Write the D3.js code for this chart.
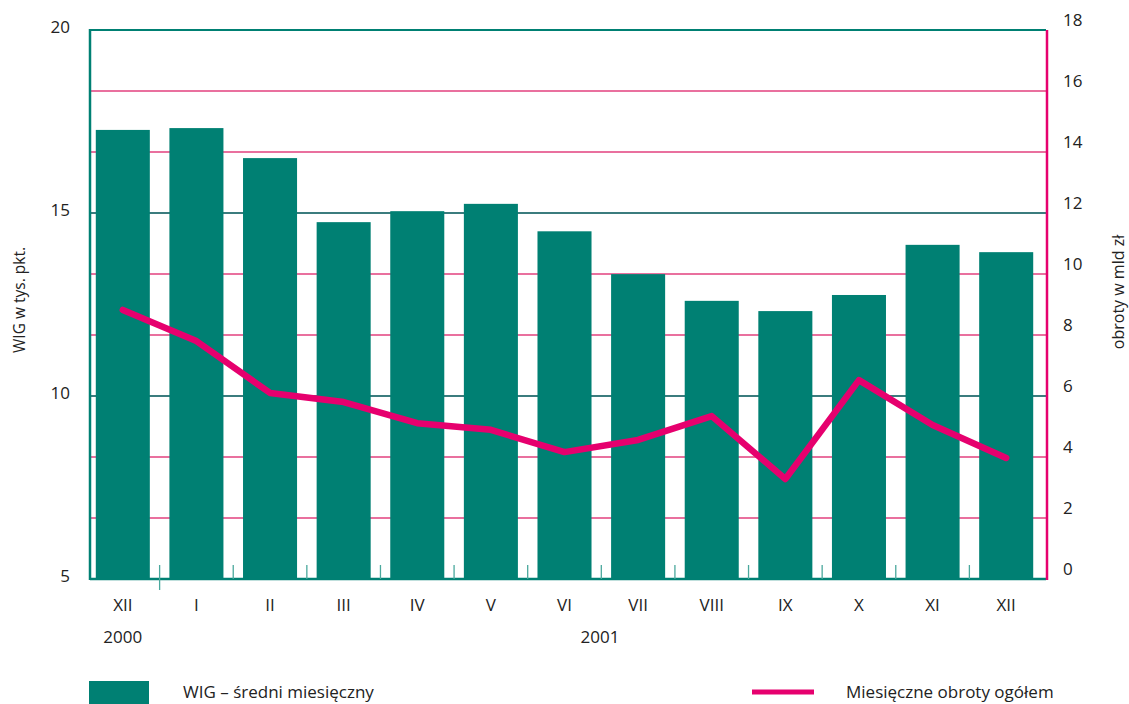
<!DOCTYPE html>
<html>
<head>
<meta charset="utf-8">
<script src="https://cdn.jsdelivr.net/npm/d3@7"></script>
<style>
  body { margin: 0; background: #fff; }
  text { font-family: "Open Sans", "Noto Sans", sans-serif; fill: #222; }
</style>
</head>
<body>
<div id="chart"></div>
<script>
// Months (Dec 2000 - Dec 2001)
const months = ["XII", "I", "II", "III", "IV", "V", "VI", "VII", "VIII", "IX", "X", "XI", "XII"];
// WIG monthly average, thousands of points
const wig = [17.27, 17.32, 16.5, 14.75, 15.05, 15.25, 14.5, 13.33, 12.6, 12.32, 12.76, 14.13, 13.93];
// monthly turnover, bln PLN
const obroty = [8.82, 7.8, 6.1, 5.8, 5.11, 4.89, 4.16, 4.56, 5.34, 3.28, 6.52, 5.05, 3.97];
const leftTicks = [5, 10, 15, 20];
const rightTicks = [0, 2, 4, 6, 8, 10, 12, 14, 16, 18];

const green = "#008073", pink = "#e6006e";
const W = 1129, H = 704;
const plot = { left: 90, right: 1046, top: 30, bottom: 579 };

const svg = d3.select("#chart").append("svg")
    .attr("width", W)
    .attr("height", H);

const keys = months.map((m, i) => i);

const x = d3.scaleBand()
    .domain(keys)
    .range([86, 1043])
    .paddingInner(0.266)
    .paddingOuter(0.133);

const yL = d3.scaleLinear().domain([5, 20]).range([plot.bottom, plot.top]);
const yR = d3.scaleLinear().domain([0, 18]).range([plot.bottom, plot.top]);

// pink grid lines for right axis
svg.append("g")
    .selectAll("line")
    .data(rightTicks.filter(t => t > 0 && t < 18))
    .join("line")
    .attr("x1", plot.left).attr("x2", plot.right)
    .attr("y1", d => yR(d)).attr("y2", d => yR(d))
    .attr("stroke", "#e2407e")
    .attr("stroke-width", 1.3);

// green grid lines for left axis
svg.append("g")
    .selectAll("line")
    .data(leftTicks.filter(t => t > 5))
    .join("line")
    .attr("x1", plot.left).attr("x2", plot.right)
    .attr("y1", d => yL(d)).attr("y2", d => yL(d))
    .attr("stroke", green)
    .attr("stroke-width", d => d === 20 ? 2 : 1.4);

// bars
svg.append("g")
    .selectAll("rect")
    .data(wig)
    .join("rect")
    .attr("x", (d, i) => x(i))
    .attr("y", d => yL(d))
    .attr("width", x.bandwidth())
    .attr("height", d => yL(5) - yL(d))
    .attr("fill", green);

// bottom axis line + ticks between months
svg.append("line")
    .attr("x1", plot.left).attr("x2", plot.right)
    .attr("y1", plot.bottom).attr("y2", plot.bottom)
    .attr("stroke", green).attr("stroke-width", 2.5);

const step = x.step();
svg.append("g")
    .selectAll("line")
    .data(d3.range(1, months.length))
    .join("line")
    .attr("x1", k => x.range()[0] + k * step)
    .attr("x2", k => x.range()[0] + k * step)
    .attr("y1", k => k === 1 ? 590 : plot.bottom)
    .attr("y2", plot.bottom - 14)
    .attr("stroke", "#4aa89d")
    .attr("stroke-width", 1.3);

// left axis line
svg.append("line")
    .attr("x1", plot.left).attr("x2", plot.left)
    .attr("y1", plot.top - 1).attr("y2", plot.bottom + 1)
    .attr("stroke", green).attr("stroke-width", 2.5);

// right axis line
svg.append("line")
    .attr("x1", plot.right + 1).attr("x2", plot.right + 1)
    .attr("y1", plot.top).attr("y2", plot.bottom + 1)
    .attr("stroke", pink).attr("stroke-width", 2.5);

// turnover line
const line = d3.line()
    .x((d, i) => x(i) + x.bandwidth() / 2)
    .y(d => yR(d));

svg.append("path")
    .datum(obroty)
    .attr("d", line)
    .attr("fill", "none")
    .attr("stroke", pink)
    .attr("stroke-width", 6.5)
    .attr("stroke-linejoin", "round")
    .attr("stroke-linecap", "round");

// left tick labels
svg.append("g")
    .selectAll("text")
    .data(leftTicks)
    .join("text")
    .attr("x", 70)
    .attr("y", d => yL(d) + 3)
    .attr("text-anchor", "end")
    .style("font-size", "17px")
    .text(d => d);

// right tick labels
svg.append("g")
    .selectAll("text")
    .data(rightTicks)
    .join("text")
    .attr("x", 1063)
    .attr("y", d => yR(d) - 4)
    .style("font-size", "17px")
    .text(d => d);

// month labels
svg.append("g")
    .selectAll("text")
    .data(months)
    .join("text")
    .attr("x", (d, i) => x(i) + x.bandwidth() / 2)
    .attr("y", 611)
    .attr("text-anchor", "middle")
    .style("font-size", "17px")
    .text(d => d);

// years
svg.append("text")
    .attr("x", x(0) + x.bandwidth() / 2)
    .attr("y", 643)
    .attr("text-anchor", "middle")
    .style("font-size", "17px")
    .text("2000");
svg.append("text")
    .attr("x", 600)
    .attr("y", 643)
    .attr("text-anchor", "middle")
    .style("font-size", "17px")
    .text("2001");

// axis titles
svg.append("text")
    .attr("transform", "translate(25,300) rotate(-90)")
    .attr("text-anchor", "middle")
    .style("font-size", "15.5px")
    .text("WIG w tys. pkt.");
svg.append("text")
    .attr("transform", "translate(1124,292) rotate(-90)")
    .attr("text-anchor", "middle")
    .style("font-size", "16px")
    .text("obroty w mld zł");

// legend
svg.append("rect")
    .attr("x", 89).attr("y", 681)
    .attr("width", 60).attr("height", 23)
    .attr("fill", green);
svg.append("text")
    .attr("x", 183).attr("y", 698)
    .style("font-size", "17px")
    .text("WIG – średni miesięczny");
svg.append("line")
    .attr("x1", 752).attr("x2", 814)
    .attr("y1", 692).attr("y2", 692)
    .attr("stroke", pink).attr("stroke-width", 5);
svg.append("text")
    .attr("x", 846).attr("y", 698)
    .style("font-size", "17px")
    .text("Miesięczne obroty ogółem");
</script>
</body>
</html>
